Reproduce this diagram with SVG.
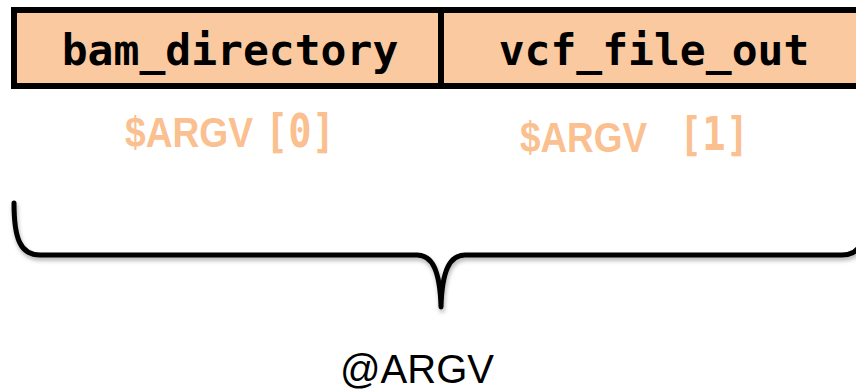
<svg xmlns="http://www.w3.org/2000/svg" width="856" height="390" viewBox="0 0 856 390">
<style>
.box{fill:#FBC9A0;stroke:#000;stroke-width:6}
.lbl{font-family:"DejaVu Sans Mono","Liberation Mono",monospace;font-weight:bold;font-size:43px;fill:#000;text-anchor:middle}
.argv{font-family:"Liberation Sans",Arial,sans-serif;font-weight:bold;font-size:43px;fill:#FAC090}
.idx{font-family:"DejaVu Sans Mono","Liberation Mono",monospace;font-weight:bold;font-size:46px;fill:#FAC090}
.cap{font-family:"Liberation Sans",Arial,sans-serif;font-size:40px;fill:#000}
.brace{fill:none;stroke:#000;stroke-width:5;stroke-linecap:round;stroke-linejoin:round}
</style>
<defs>
<filter id="sh" x="-5%" y="-20%" width="110%" height="150%">
<feDropShadow dx="1" dy="3" stdDeviation="2" flood-color="#000" flood-opacity="0.3"/>
</filter>
</defs>
<g id="node-bam_directory">
<rect class="box" x="14" y="10" width="427" height="76"/>
<text class="lbl" x="230" y="65">bam_directory</text>
</g>
<g id="node-vcf_file_out">
<rect class="box" x="441" y="10" width="430" height="76"/>
<text class="lbl" x="654" y="65">vcf_file_out</text>
</g>
<g id="label-argv0">
<text class="argv" x="125" y="147" textLength="128" lengthAdjust="spacingAndGlyphs">$ARGV</text>
<text class="idx" x="265" y="147" textLength="70" lengthAdjust="spacingAndGlyphs">[0]</text>
</g>
<g id="label-argv1">
<text class="argv" x="520" y="152" textLength="127" lengthAdjust="spacingAndGlyphs">$ARGV</text>
<text class="idx" x="679" y="150" textLength="70" lengthAdjust="spacingAndGlyphs">[1]</text>
</g>
<g id="connectors">
<path class="brace" filter="url(#sh)" d="M14,203 C14,238 20,255 40,255 L417,255 C432,255 440,270 441,307 C442,270 450,255 465,255 L842,255 C862,255 868,238 868,203"/>
</g>
<g id="node-argv">
<text class="cap" x="340" y="383">@ARGV</text>
</g>
</svg>
